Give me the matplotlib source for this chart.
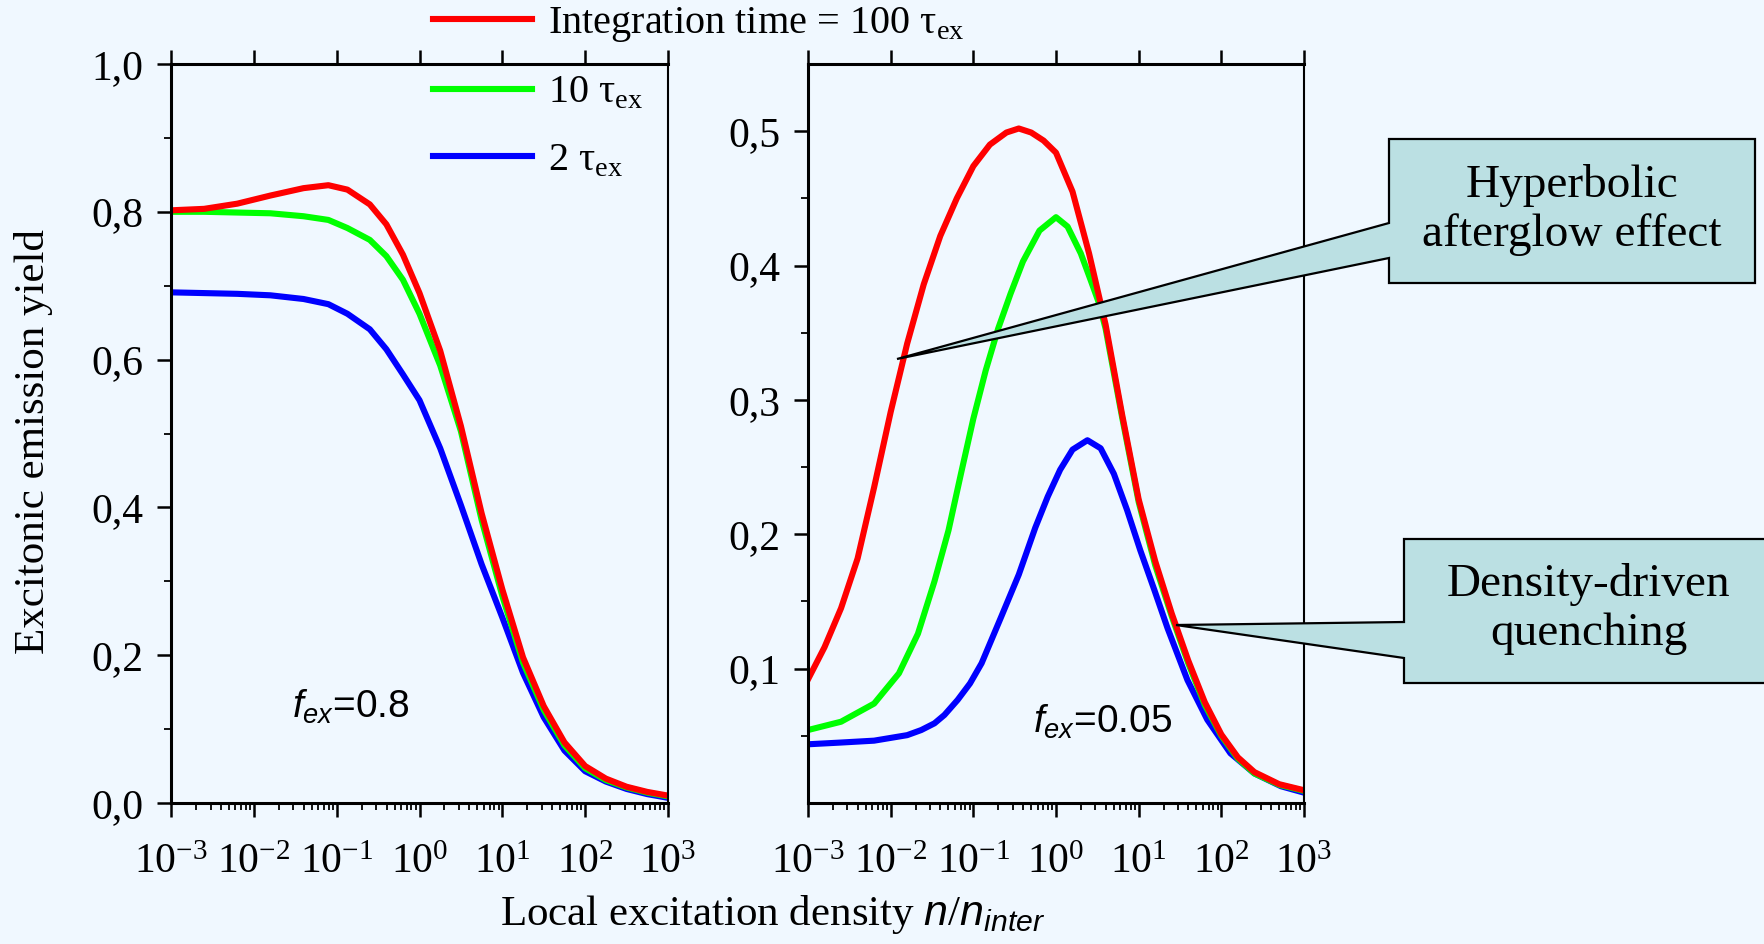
import numpy as np
import matplotlib
matplotlib.use("Agg")
import matplotlib.pyplot as plt
from matplotlib.patches import Polygon
from matplotlib.ticker import FixedLocator, LogLocator, FuncFormatter, NullFormatter

plt.rcParams['font.family'] = ['Liberation Serif', 'DejaVu Serif']
plt.rcParams['mathtext.fontset'] = 'custom'
plt.rcParams['mathtext.rm'] = 'Liberation Serif'
plt.rcParams['mathtext.it'] = 'Liberation Sans:italic'
plt.rcParams['mathtext.bf'] = 'Liberation Serif:bold'
plt.rcParams['axes.unicode_minus'] = False

# Daten: log10 der lokalen Anregungsdichte n/n_inter und Ausbeute
# linkes Bild, f_ex = 0.8
left_log_n = [-3, -2.6, -2.2, -1.8, -1.4, -1.1, -0.87, -0.6, -0.4, -0.2, 0, 0.25, 0.5,
              0.75, 1, 1.25, 1.5, 1.75, 2, 2.25, 2.5, 2.75, 3]
left_100 = [0.802, 0.804, 0.811, 0.822, 0.832, 0.836, 0.830, 0.810, 0.783, 0.742, 0.690,
            0.612, 0.510, 0.392, 0.289, 0.197, 0.131, 0.082, 0.050, 0.033, 0.022, 0.015,
            0.010]
left_10 = [0.800, 0.800, 0.799, 0.798, 0.794, 0.789, 0.778, 0.762, 0.740, 0.708, 0.662,
           0.592, 0.503, 0.383, 0.280, 0.190, 0.126, 0.078, 0.047, 0.031, 0.021, 0.014,
           0.009]
left_2 = [0.691, 0.690, 0.689, 0.687, 0.682, 0.675, 0.662, 0.641, 0.614, 0.580, 0.545,
          0.480, 0.403, 0.323, 0.251, 0.176, 0.116, 0.071, 0.043, 0.029, 0.019, 0.012,
          0.007]

# rechtes Bild, f_ex = 0.05
right_100_log_n = [-3, -2.8, -2.6, -2.4, -2.2, -2.0, -1.8, -1.6, -1.4, -1.2, -1.0, -0.8,
                   -0.6, -0.45, -0.3, -0.15, 0, 0.2, 0.4, 0.6, 0.8, 1.0, 1.2, 1.4, 1.6,
                   1.8, 2.0, 2.2, 2.4, 2.7, 3.0]
right_100 = [0.092, 0.116, 0.145, 0.182, 0.235, 0.291, 0.342, 0.386, 0.422, 0.450, 0.474,
             0.490, 0.499, 0.502, 0.499, 0.493, 0.484, 0.455, 0.409, 0.356, 0.289, 0.226,
             0.180, 0.141, 0.106, 0.075, 0.051, 0.034, 0.023, 0.014, 0.0095]
right_10_log_n = [-3, -2.6, -2.2, -1.9, -1.67, -1.47, -1.3, -1.15, -1.0, -0.85, -0.7,
                  -0.55, -0.4, -0.2, 0, 0.14, 0.3, 0.42, 0.52, 0.6, 0.8, 1.0, 1.2, 1.4,
                  1.6, 1.8, 2.0, 2.2, 2.4, 2.7, 3.0]
right_10 = [0.0543, 0.0605, 0.074, 0.0965, 0.126, 0.165, 0.203, 0.245, 0.286, 0.322, 0.353,
            0.379, 0.403, 0.426, 0.436, 0.429, 0.409, 0.389, 0.372, 0.353, 0.287, 0.224,
            0.177, 0.139, 0.104, 0.073, 0.050, 0.033, 0.022, 0.0135, 0.009]
right_2_log_n = [-3, -2.6, -2.2, -1.8, -1.63, -1.47, -1.35, -1.19, -1.04, -0.9, -0.66,
                 -0.45, -0.25, -0.1, 0.05, 0.2, 0.38, 0.54, 0.7, 0.86, 1.02, 1.19, 1.35,
                 1.59, 1.83, 2.11, 2.4, 2.72, 3.0]
right_2 = [0.0437, 0.045, 0.0464, 0.0505, 0.0543, 0.0593, 0.0655, 0.0767, 0.089, 0.104,
           0.139, 0.170, 0.205, 0.228, 0.248, 0.263, 0.270, 0.264, 0.245, 0.218, 0.188,
           0.1585, 0.130, 0.0915, 0.062, 0.037, 0.022, 0.0125, 0.0077]

labels = [r'Integration time = 100 $\mathrm{\tau}_{\mathrm{ex}}$',
          r'10 $\mathrm{\tau}_{\mathrm{ex}}$',
          r'2 $\mathrm{\tau}_{\mathrm{ex}}$']
colors = ['#FF0000', '#00FF00', '#0000FF']
x_ticks = [1e-3, 1e-2, 1e-1, 1e0, 1e1, 1e2, 1e3]

BG = '#F0F8FF'
W, H = 1764, 944

fig = plt.figure(figsize=(W / 100, H / 100), dpi=100, facecolor=BG)


def px(x, y):
    return (x / W, 1 - y / H)


def axes_box(x0, y0, x1, y1):
    return [x0 / W, 1 - y1 / H, (x1 - x0) / W, (y1 - y0) / H]


ax1 = fig.add_axes(axes_box(171, 64, 668, 803))
ax2 = fig.add_axes(axes_box(808, 64, 1304, 803))

komma = FuncFormatter(lambda v, pos: f"{v:.1f}".replace('.', ','))

left_curves = [(left_log_n, left_2), (left_log_n, left_10), (left_log_n, left_100)]
right_curves = [(right_2_log_n, right_2), (right_10_log_n, right_10),
                (right_100_log_n, right_100)]

handles = []
for ax, curves in [(ax1, left_curves), (ax2, right_curves)]:
    lines = []
    for (xs, ys), c in zip(curves, colors[::-1]):
        ln, = ax.plot(10.0 ** np.array(xs), ys, color=c, lw=4.4,
                      solid_joinstyle='round')
        lines.append(ln)
    if ax is ax1:
        handles = lines[::-1]
    ax.set_xscale('log')
    ax.set_xlim(1e-3, 1e3)
    ax.set_facecolor(BG)
    ax.xaxis.set_major_locator(FixedLocator(x_ticks))
    ax.xaxis.set_minor_locator(LogLocator(base=10, subs=np.arange(2, 10), numticks=20))
    ax.xaxis.set_minor_formatter(NullFormatter())
    ax.yaxis.set_major_formatter(komma)
    ax.tick_params(which='major', direction='out', length=10, width=1.8, labelsize=30,
                   top=True, right=False)
    ax.tick_params(axis='x', which='major', pad=19)
    ax.tick_params(axis='y', which='major', pad=10)
    ax.tick_params(which='minor', direction='out', length=5, width=1.3, top=False,
                   right=False)
    for s in ['left', 'bottom', 'top']:
        ax.spines[s].set_linewidth(2.2)
    ax.spines['right'].set_linewidth(1.5)

ax1.set_ylim(0, 1.0)
ax1.yaxis.set_major_locator(FixedLocator([0, 0.2, 0.4, 0.6, 0.8, 1.0]))
ax1.yaxis.set_minor_locator(FixedLocator([0.1, 0.3, 0.5, 0.7, 0.9]))

ax2.set_ylim(0, 0.55)
ax2.yaxis.set_major_locator(FixedLocator([0.1, 0.2, 0.3, 0.4, 0.5]))
ax2.yaxis.set_minor_locator(FixedLocator([0.05, 0.15, 0.25, 0.35, 0.45]))

ax1.text(0.243, 0.116, r'$f_{ex}$=0.8', transform=ax1.transAxes, fontsize=28,
         family='Liberation Sans', va='baseline')
ax2.text(0.454, 0.095, r'$f_{ex}$=0.05', transform=ax2.transAxes, fontsize=28,
         family='Liberation Sans', va='baseline')

fig.text(34 / W, 1 - 441 / H, 'Excitonic emission yield', rotation=90,
         ha='center', va='center', fontsize=31)
fig.text(773 / W, 1 - 925 / H, r'Local excitation density $n/n_{inter}$',
         ha='center', va='baseline', fontsize=31)

fig.legend(handles, labels, loc='upper left', bbox_to_anchor=(433 / W, 1 - 5 / H),
           frameon=False, fontsize=29, handlelength=2.45, handletextpad=0.4,
           labelspacing=0.75, borderpad=0, borderaxespad=0)

# Sprechblasen
box_fill = '#BBE0E3'
glow = [px(1389, 139), px(1755, 139), px(1755, 283), px(1389, 283),
        px(1389, 258), px(897, 359), px(1389, 223)]
fig.add_artist(Polygon(glow, closed=True, facecolor=box_fill, edgecolor='black',
                       lw=1.6, transform=fig.transFigure, zorder=5))
fig.text(1572 / W, 1 - 210 / H, 'Hyperbolic\nafterglow effect', ha='center',
         va='center', fontsize=34, linespacing=1.2, zorder=6)

quench = [px(1404, 539), px(1790, 539), px(1790, 683), px(1404, 683),
          px(1404, 658), px(1176, 625), px(1404, 622)]
fig.add_artist(Polygon(quench, closed=True, facecolor=box_fill, edgecolor='black',
                       lw=1.6, transform=fig.transFigure, zorder=5))
fig.text(1589 / W, 1 - 609 / H, 'Density-driven\nquenching', ha='center',
         va='center', fontsize=34, linespacing=1.2, zorder=6)

fig.savefig('out.png', dpi=100, facecolor=BG)
